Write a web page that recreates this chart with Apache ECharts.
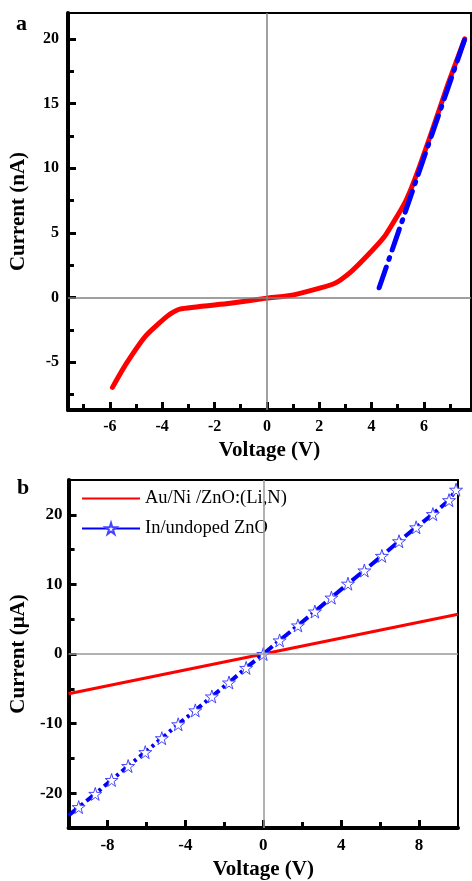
<!DOCTYPE html>
<html lang="en">
<head>
    <meta charset="UTF-8">
    <title>I-V curves</title>
    <script src="https://cdn.jsdelivr.net/npm/echarts@6/dist/echarts.min.js"></script>
    <style>
        html, body { margin: 0; padding: 0; background: #fff; }
        #main { width: 472px; height: 881px; }
    </style>
</head>
<body>
<div id="main"></div>
<script>
    // panel a: red measured curve (V, nA)
    var aRedV = [-5.9, -5.38, -4.62, -3.78, -3.33, -1.4, 0, 0.9, 2.56, 3.2, 3.85, 4.48, 5.0, 5.32, 5.64, 6.28, 6.92, 7.56];
    var aRedI = [-6.95, -5.14, -2.95, -1.4, -0.9, -0.45, -0.05, 0.15, 1.06, 1.96, 3.26, 4.67, 6.36, 7.52, 9.07, 12.7, 16.5, 20.0];
    // panel a: blue linear fit
    var aFitV = [4.29, 7.6];
    var aFitI = [0.75, 20.2];

    // panel b: Au/Ni /ZnO:(Li,N)
    var bRedV = [-10, 0, 10];
    var bRedI = [-5.7, 0, 5.7];
    // panel b: In/undoped ZnO (stars)
    var bBlueV = [-9.48, -8.63, -7.79, -6.94, -6.06, -5.21, -4.37, -3.49, -2.64, -1.76, -0.88, 0, 0.84, 1.78, 2.65, 3.5, 4.35, 5.19, 6.09, 6.97, 7.85, 8.71, 9.54, 9.9];
    var bBlueI = [-22.0, -20.1, -18.1, -16.1, -14.1, -12.1, -10.1, -8.1, -6.1, -4.1, -2.0, 0, 1.95, 4.1, 6.1, 8.1, 10.1, 12.0, 14.1, 16.2, 18.2, 20.1, 22.1, 23.6];
    var bBlueEnd = [-10, -23.2];

    // tick positions
    var aXMajor = [-6, -4, -2, 0, 2, 4, 6];
    var aXMinor = [-7, -5, -3, -1, 1, 3, 5, 7];
    var aYMajor = [-5, 0, 5, 10, 15, 20];
    var aYMinor = [-7.5, -2.5, 2.5, 7.5, 12.5, 17.5];
    var bXMajor = [-8, -4, 0, 4, 8];
    var bXMinor = [-6, -2, 2, 6];
    var bYMajor = [-20, -10, 0, 10, 20];
    var bYMinor = [-15, -5, 5, 15];

    var serif = 'Liberation Serif';
    var star = 'path://M50,0 L61,35 L98,35 L68,57 L79,91 L50,70 L21,91 L32,57 L2,35 L39,35 Z';

    function pairs(xs, ys) {
        return xs.map(function (x, i) { return [x, ys[i]]; });
    }

    function majorAxis(grid, pos, min, max, ticks, name, gap, lblSize, margin) {
        return {
            type: 'value', gridIndex: grid, position: pos, min: min, max: max,
            name: name, nameLocation: 'middle', nameGap: gap,
            nameTextStyle: {fontFamily: serif, fontWeight: 'bold', fontSize: 21, color: '#000'},
            axisLine: {show: true, onZero: false, lineStyle: {color: '#000', width: 4}},
            axisTick: {show: true, inside: true, length: 8, customValues: ticks, lineStyle: {color: '#000', width: 3}},
            axisLabel: {customValues: ticks, margin: margin, fontFamily: serif, fontWeight: 'bold', fontSize: lblSize, color: '#000'},
            splitLine: {show: false}
        };
    }

    function minorAxis(grid, pos, min, max, ticks) {
        return {
            type: 'value', gridIndex: grid, position: pos, min: min, max: max,
            axisLine: {show: false, onZero: false},
            axisTick: {show: true, inside: true, length: 6, customValues: ticks, lineStyle: {color: '#000', width: 3}},
            axisLabel: {show: false},
            splitLine: {show: false}
        };
    }

    function zeroLines(color) {
        return {
            silent: true, symbol: ['none', 'none'], label: {show: false},
            lineStyle: {color: color, width: 1.5, type: 'solid'},
            data: [{xAxis: 0}, {yAxis: 0}]
        };
    }

    var myChart = echarts.init(document.getElementById('main'));

    var blueData = [{value: bBlueEnd, symbol: 'none'}].concat(pairs(bBlueV, bBlueI));

    var option = {
        animation: false,
        title: [
            {text: 'a', left: 11, top: 8, textStyle: {fontFamily: serif, fontWeight: 'bold', fontSize: 22, color: '#000'}},
            {text: 'b', left: 12, top: 472, textStyle: {fontFamily: serif, fontWeight: 'bold', fontSize: 22, color: '#000'}}
        ],
        grid: [
            {left: 68, top: 13, width: 403, height: 397, show: true, borderColor: '#000', borderWidth: 2, backgroundColor: 'transparent'},
            {left: 67, top: 480, width: 391, height: 352, show: true, borderColor: '#000', borderWidth: 2, backgroundColor: 'transparent'}
        ],
        legend: {
            left: 76, top: 484, orient: 'vertical', itemWidth: 58, itemHeight: 14, itemGap: 11,
            textStyle: {fontFamily: serif, fontSize: 18.5, color: '#000'},
            data: [
                {name: 'Au/Ni /ZnO:(Li,N)', itemStyle: {opacity: 0}},
                {name: 'In/undoped ZnO', lineStyle: {type: 'solid'}}
            ]
        },
        xAxis: [
            majorAxis(0, 'bottom', -7.6, 7.8, aXMajor, 'Voltage (V)', 30, 16, 9),
            minorAxis(0, 'bottom', -7.6, 7.8, aXMinor),
            majorAxis(1, 'bottom', -10, 10, bXMajor, 'Voltage (V)', 31, 17, 9),
            minorAxis(1, 'bottom', -10, 10, bXMinor)
        ],
        yAxis: [
            majorAxis(0, 'left', -8.7, 22, aYMajor, 'Current (nA)', 39, 16, 9),
            minorAxis(0, 'left', -8.7, 22, aYMinor),
            majorAxis(1, 'left', -25, 25, bYMajor, 'Current (\u03bcA)', 38, 17, 6),
            minorAxis(1, 'left', -25, 25, bYMinor)
        ],
        series: [
            {
                name: 'a-iv', type: 'line', xAxisIndex: 0, yAxisIndex: 0,
                data: pairs(aRedV, aRedI), smooth: 0.2, symbol: 'none',
                lineStyle: {color: '#ff0000', width: 5, cap: 'round', join: 'round'},
                markLine: zeroLines('#808080'), z: 3
            },
            {
                name: 'a-fit', type: 'line', xAxisIndex: 0, yAxisIndex: 0,
                data: pairs(aFitV, aFitI), symbol: 'none',
                lineStyle: {color: '#0000ff', width: 5, type: [22, 8, 2, 8], cap: 'round'}, z: 4
            },
            {
                name: 'Au/Ni /ZnO:(Li,N)', type: 'line', xAxisIndex: 2, yAxisIndex: 2,
                data: pairs(bRedV, bRedI), symbol: 'none', color: '#ff0000',
                lineStyle: {color: '#ff0000', width: 3},
                markLine: zeroLines('#999999'), z: 3
            },
            {
                name: 'In/undoped ZnO', type: 'line', xAxisIndex: 2, yAxisIndex: 2,
                data: blueData, symbol: star, symbolSize: 13, showSymbol: true, color: '#0000ff',
                itemStyle: {color: '#ffffff', borderColor: '#4444ff', borderWidth: 1},
                lineStyle: {color: '#0000ff', width: 4, type: [12, 4, 3, 4]}, z: 4
            }
        ]
    };
    myChart.setOption(option);
</script>
</body>
</html>
